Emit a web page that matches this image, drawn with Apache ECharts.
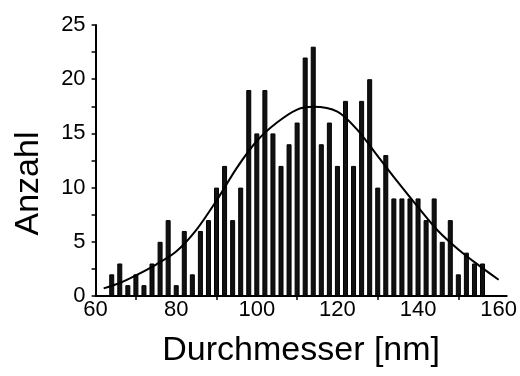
<!DOCTYPE html>
<html>
<head>
<meta charset="utf-8">
<script src="https://cdn.jsdelivr.net/npm/echarts@6/dist/echarts.min.js"></script>
<style>
  html, body { margin: 0; padding: 0; background: #fff; }
  #container { width: 520px; height: 376px; }
</style>
</head>
<body>
<div id="container"></div>
<script>
// Klassenmitten (nm) und Anzahl pro Klasse
let diameters = [64, 66, 68, 70, 72, 74, 76, 78, 80, 82, 84, 86, 88, 90, 92, 94, 96, 98, 100, 102,
                 104, 106, 108, 110, 112, 114, 116, 118, 120, 122, 124, 126, 128, 130, 132, 134, 136, 138, 140, 142,
                 144, 146, 148, 150, 152, 154, 156];
let counts = [2, 3, 1, 2, 1, 3, 5, 7, 1, 6, 2, 6, 7, 10, 12, 7, 10, 19, 15, 19,
              15, 12, 14, 16, 22, 23, 14, 16, 12, 18, 12, 18, 20, 10, 13, 9, 9, 9, 9, 7,
              9, 5, 7, 2, 4, 3, 3];

let fitX = [62, 66, 70, 75, 80, 85, 90, 95, 100, 105, 110, 114, 120, 125, 130, 135, 140, 145, 150, 155, 160];
let fitY = [0.7, 1.2, 1.9, 2.9, 4.1, 6.1, 8.8, 11.8, 14.3, 16.0, 17.2, 17.45, 17.0, 15.3, 12.9, 10.5, 8.2, 6.0, 4.3, 2.85, 1.5];

let xLabels = [60, 80, 100, 120, 140, 160];
let xMinorTicks = [70, 90, 110, 130, 150];

let font = 'Liberation Sans, Arial, sans-serif';

let barData = diameters.map((d, i) => [d, counts[i]]);
let fitData = fitX.map((d, i) => [d, fitY[i]]);

let option = {
    animation: false,
    backgroundColor: '#fff',
    grid: {
        left: 95.6,
        right: 12,
        top: 25,
        bottom: 80
    },
    xAxis: {
        type: 'value',
        min: 60,
        max: 162,
        interval: 20,
        name: 'Durchmesser [nm]',
        nameLocation: 'middle',
        nameGap: 38,
        nameTextStyle: { color: '#000', fontSize: 34, fontFamily: font },
        axisLine: { lineStyle: { color: '#000', width: 2 } },
        axisTick: {
            customValues: xMinorTicks,
            length: 4,
            lineStyle: { color: '#000', width: 1.5 }
        },
        axisLabel: {
            customValues: xLabels,
            color: '#000',
            fontSize: 22,
            fontFamily: font,
            margin: 3
        },
        splitLine: { show: false }
    },
    yAxis: {
        type: 'value',
        min: 0,
        max: 25,
        interval: 5,
        name: 'Anzahl',
        nameLocation: 'middle',
        nameGap: 50,
        nameTextStyle: { color: '#000', fontSize: 34, fontFamily: font, padding: [0, 46, 0, 0] },
        axisLine: { show: true, lineStyle: { color: '#000', width: 2 } },
        axisTick: { show: true, length: 4, lineStyle: { color: '#000', width: 1.5 } },
        minorTick: { show: true, splitNumber: 2, length: 4, lineStyle: { color: '#000', width: 1.5 } },
        axisLabel: { color: '#000', fontSize: 22, fontFamily: font, margin: 10 },
        splitLine: { show: false },
        minorSplitLine: { show: false }
    },
    series: [
        {
            type: 'bar',
            data: barData,
            barWidth: 5,
            itemStyle: { color: '#111', borderColor: '#000', borderWidth: 1 }
        },
        {
            type: 'line',
            data: fitData,
            smooth: 0.3,
            showSymbol: false,
            lineStyle: { color: '#000', width: 2 },
            z: 5
        }
    ]
};

let myChart = echarts.init(document.getElementById('container'));
myChart.setOption(option);
</script>
</body>
</html>
